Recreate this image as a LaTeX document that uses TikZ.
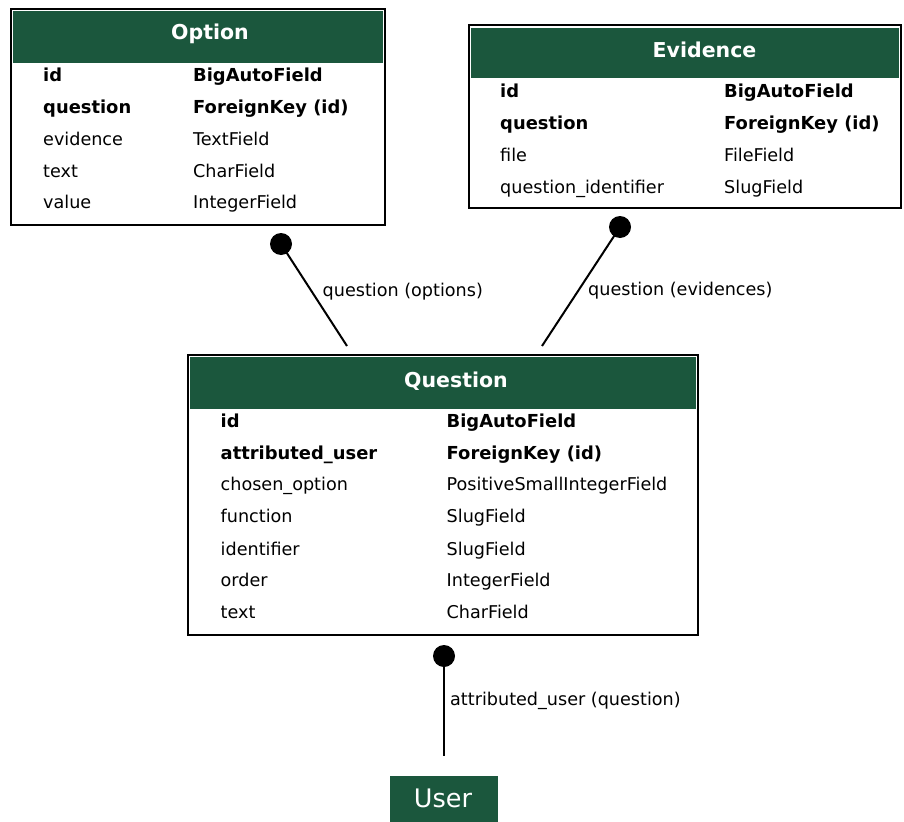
\documentclass[tikz,border=0pt]{standalone}
\usepackage{fontspec}
\setmainfont{DejaVu Sans}
\definecolor{hdrgreen}{RGB}{27,87,61}
\begin{document}
\begin{tikzpicture}[x=1bp,y=-1bp,
  frame/.style={draw=black,line width=2.2bp,fill=white,inner sep=0pt,outer sep=0pt,anchor=north west},
  hdr/.style={fill=hdrgreen,draw=none,inner sep=0pt,outer sep=0pt,anchor=north west},
  title/.style={text=white,font=\fontsize{20.5bp}{24bp}\selectfont\bfseries,anchor=base,inner sep=0pt},
  fk/.style={font=\fontsize{17.9bp}{20bp}\selectfont\bfseries,anchor=base west,inner sep=0pt},
  fld/.style={font=\fontsize{17.6bp}{20bp}\selectfont,anchor=base west,inner sep=0pt},
  lbl/.style={font=\fontsize{17.6bp}{20bp}\selectfont,anchor=base west,inner sep=0pt},
  conn/.style={line width=2bp,draw=black},
  dot/.style={fill=black}]
\useasboundingbox (0,0) rectangle (904,822);
% ---------- Option ----------
\node[frame,minimum width=374bp,minimum height=216bp] (option) at (11,9) {};
\node[hdr,minimum width=370bp,minimum height=52bp] (optionhead) at (13,11) {};
\node[title] (optiontitle) at (210,40) {Option};
\node[fk] (o1a) at (43,81.5) {id};
\node[fk] (o1b) at (193,81.5) {BigAutoField};
\node[fk] (o2a) at (43,113.5) {question};
\node[fk] (o2b) at (193,113.5) {ForeignKey (id)};
\node[fld] (o3a) at (43,145.2) {evidence};
\node[fld] (o3b) at (193,145.2) {TextField};
\node[fld] (o4a) at (43,177) {text};
\node[fld] (o4b) at (193,177) {CharField};
\node[fld] (o5a) at (43,208.7) {value};
\node[fld] (o5b) at (193,208.7) {IntegerField};
% ---------- Evidence ----------
\node[frame,minimum width=432bp,minimum height=183bp] (evidence) at (469,25) {};
\node[hdr,minimum width=428bp,minimum height=50bp] (evidencehead) at (471,28) {};
\node[title] (evidencetitle) at (704.5,58) {Evidence};
\node[fk] (e1a) at (500,97) {id};
\node[fk] (e1b) at (724,97) {BigAutoField};
\node[fk] (e2a) at (500,129) {question};
\node[fk] (e2b) at (724,129) {ForeignKey (id)};
\node[fld] (e3a) at (500,161.5) {file};
\node[fld] (e3b) at (724,161.5) {FileField};
\node[fld] (e4a) at (500,193) {question\_identifier};
\node[fld] (e4b) at (724,193) {SlugField};
% ---------- Question ----------
\node[frame,minimum width=510bp,minimum height=280bp] (question) at (188,355) {};
\node[hdr,minimum width=506bp,minimum height=52bp] (questionhead) at (190,357) {};
\node[title] (questiontitle) at (456,387) {Question};
\node[fk] (q1a) at (220.5,427) {id};
\node[fk] (q1b) at (446.5,427) {BigAutoField};
\node[fk] (q2a) at (220.5,459) {attributed\_user};
\node[fk] (q2b) at (446.5,459) {ForeignKey (id)};
\node[fld] (q3a) at (220.5,490.7) {chosen\_option};
\node[fld] (q3b) at (446.5,490.7) {PositiveSmallIntegerField};
\node[fld] (q4a) at (220.5,522.7) {function};
\node[fld] (q4b) at (446.5,522.7) {SlugField};
\node[fld] (q5a) at (220.5,555) {identifier};
\node[fld] (q5b) at (446.5,555) {SlugField};
\node[fld] (q6a) at (220.5,586.7) {order};
\node[fld] (q6b) at (446.5,586.7) {IntegerField};
\node[fld] (q7a) at (220.5,618.5) {text};
\node[fld] (q7b) at (446.5,618.5) {CharField};
% ---------- User ----------
\node[hdr,minimum width=108bp,minimum height=46bp] (user) at (390,776) {};
\node[text=white,font=\fontsize{25.5bp}{28bp}\selectfont,anchor=base,inner sep=0pt] (usertitle) at (443,807) {User};
% ---------- connectors ----------
\coordinate (optdot) at (281,244);
\coordinate (optend) at (347,346);
\coordinate (evidot) at (620,227);
\coordinate (eviend) at (542,346);
\coordinate (usrdot) at (444,656);
\coordinate (usrend) at (444,756);
\draw[conn] (optdot) -- (optend);
\draw[conn] (evidot) -- (eviend);
\draw[conn] (usrdot) -- (usrend);
\fill[dot] (optdot) circle (11bp);
\fill[dot] (evidot) circle (11bp);
\fill[dot] (usrdot) circle (11bp);
\node[lbl] (lopt) at (322.5,296) {question (options)};
\node[lbl] (levi) at (588,295) {question (evidences)};
\node[lbl] (lusr) at (450,705) {attributed\_user (question)};
\end{tikzpicture}
\end{document}
